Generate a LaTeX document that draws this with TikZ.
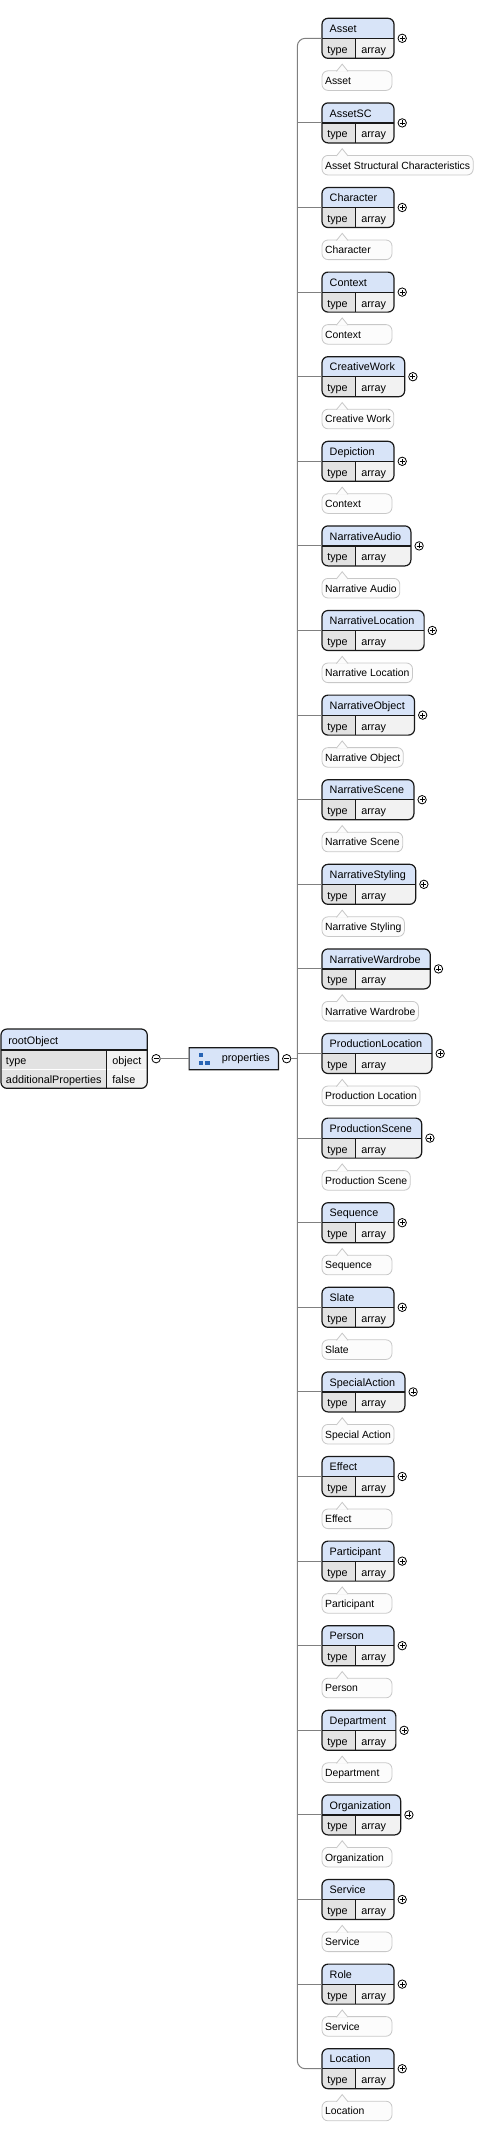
\documentclass[tikz,border=0pt]{standalone}
\usepackage{fontspec}
\setmainfont{Liberation Sans}
\usepackage{xcolor}
\usepackage{tikz}
\usetikzlibrary{positioning,calc,backgrounds}

\definecolor{hdrblue}{RGB}{216,228,248}
\definecolor{typegray}{RGB}{226,226,226}
\definecolor{cellgray}{RGB}{242,242,242}
\definecolor{notegray}{RGB}{200,200,200}
\definecolor{notefill}{RGB}{252,252,252}
\definecolor{linkgray}{RGB}{128,128,128}
\definecolor{iconblue}{RGB}{40,100,180}

\newcommand{\boxfont}{\fontsize{8.1}{9.7}\selectfont}
\newcommand{\notefont}{\fontsize{7.8}{9.4}\selectfont}
% left aligned text, padded to a minimum width
\newcommand{\padbox}[2]{\setbox0=\hbox{#2}\ifdim\wd0<#1\relax\hbox to #1{\unhbox0\hfil}\else\box0\fi}
\newcommand{\hdr}[1]{\padbox{42.4pt}{#1\kern1.5pt}}
\newcommand{\nte}[1]{\padbox{47.9pt}{#1}}

\begin{document}
\begin{tikzpicture}[
    x=0.75pt, y=-0.75pt,
    node distance=9.375pt,
    every node/.style={outer sep=0pt},
    cell/.style={anchor=base west, inner sep=0pt, font=\boxfont},
    knob/.style={circle, draw=black, line width=0.6pt, fill=white, inner sep=0pt, minimum size=6.3pt},
    expander/.style={knob, path picture={
        \draw[line width=0.6pt] ([xshift=-1.9pt]path picture bounding box.center) -- ([xshift=1.9pt]path picture bounding box.center)
            ([yshift=-1.9pt]path picture bounding box.center) -- ([yshift=1.9pt]path picture bounding box.center);}},
    collapser/.style={knob, path picture={
        \draw[line width=0.6pt] ([xshift=-1.9pt]path picture bounding box.center) -- ([xshift=1.9pt]path picture bounding box.center);}},
    prop/.style={rectangle, anchor=north west, rounded corners=4.5pt, draw=black!90, line width=0.9pt, fill=cellgray,
        inner xsep=5.8pt, inner ysep=0pt, text height=10.7pt, text depth=19.3pt, font=\boxfont,
        path picture={
            \fill[hdrblue, sharp corners] (path picture bounding box.north west) rectangle (path picture bounding box.east);
            \fill[typegray, sharp corners] (path picture bounding box.south west) rectangle ([xshift=25.3pt]path picture bounding box.west);
            \draw[sharp corners, line width=0.9pt, draw=black!90] (path picture bounding box.west) -- (path picture bounding box.east)
                ([xshift=25.3pt]path picture bounding box.west) -- ([xshift=25.3pt]path picture bounding box.south west);},
        label={[cell, xshift=4pt, yshift=3.75pt]south west:type},
        label={[cell, xshift=29.5pt, yshift=3.75pt]south west:array},
        label={[expander, label distance=3pt]right:{}}},
    note/.style={rectangle, rounded corners=4.5pt, draw=notegray, line width=0.6pt, fill=notefill,
        inner xsep=2.3pt, inner ysep=0pt, text height=10.3pt, text depth=4.4pt, font=\notefont},
    notch/.style={draw=notegray, fill=notefill, line width=0.6pt},
    under/.style={below=of #1.south west, anchor=north west},
    link/.style={draw=linkgray, line width=0.75pt},
]
\useasboundingbox (0,0) rectangle (481,2135);

% Root object
\node[rectangle, anchor=north west, rounded corners=4.5pt, draw=black!90, line width=0.9pt, fill=cellgray,
    inner xsep=5.5pt, inner ysep=0pt, text height=11.5pt, text depth=33pt, font=\boxfont,
    path picture={
        \fill[hdrblue, sharp corners] (path picture bounding box.north west) rectangle ([yshift=-15.75pt]path picture bounding box.north east);
        \fill[typegray, sharp corners] ([yshift=-15.75pt]path picture bounding box.north west) rectangle ([xshift=79.3pt]path picture bounding box.south west);
        \draw[sharp corners, line width=0.75pt, draw=white] ([yshift=-30.2pt]path picture bounding box.north west) -- ([yshift=-30.2pt]path picture bounding box.north east);
        \draw[sharp corners, line width=0.9pt, draw=black!90] ([yshift=-15.75pt]path picture bounding box.north west) -- ([yshift=-15.75pt]path picture bounding box.north east)
            ([yshift=-15.75pt, xshift=79.3pt]path picture bounding box.north west) -- ([xshift=79.3pt]path picture bounding box.south west);},
    label={[cell, xshift=3.75pt, yshift=-26.5pt]north west:type},
    label={[cell, xshift=83.6pt, yshift=-26.5pt]north west:object},
    label={[cell, xshift=3.75pt, yshift=-40.5pt]north west:additionalProperties},
    label={[cell, xshift=83.6pt, yshift=-40.5pt]north west:false}]
    (root) at (1,1029) {\padbox{98.7pt}{rootObject}};
\node[collapser, right=3.5pt of root] (root-c) {};

% Properties group
\node[rectangle, inner xsep=6.5pt, inner ysep=0pt, minimum height=16.5pt, font=\boxfont, right=21.6pt of root-c] (props) {\hspace*{18pt}properties};
\node[collapser, right=3pt of props] (props-c) {};
\begin{scope}[on background layer]
\filldraw[fill=hdrblue, draw=black!90, line width=0.9pt] (props.south west) |- ([xshift=-4.5pt]props.north east)
    to[out=0,in=90] ([yshift=-4.5pt]props.north east) |- (props.south west) -- cycle;
\end{scope}
\fill[iconblue] ([xshift=7.5pt,yshift=4.5pt]props.west) rectangle ++(3pt,-3pt);
\fill[iconblue] ([xshift=7.5pt,yshift=-1.5pt]props.west) rectangle ++(3pt,-3pt);
\fill[iconblue] ([xshift=12pt,yshift=-1.5pt]props.west) rectangle ++(3.5pt,-3pt);

% Properties
\node[prop] (asset) at (322,18.3) {\hdr{Asset}};
\node[note, under=asset] (asset-note) {\nte{Asset}};
\node[prop, under=asset-note] (assetsc) {\hdr{AssetSC}};
\node[note, under=assetsc] (assetsc-note) {\nte{Asset Structural Characteristics}};
\node[prop, under=assetsc-note] (character) {\hdr{Character}};
\node[note, under=character] (character-note) {\nte{Character}};
\node[prop, under=character-note] (context) {\hdr{Context}};
\node[note, under=context] (context-note) {\nte{Context}};
\node[prop, under=context-note] (creativework) {\hdr{CreativeWork}};
\node[note, under=creativework] (creativework-note) {\nte{Creative Work}};
\node[prop, under=creativework-note] (depiction) {\hdr{Depiction}};
\node[note, under=depiction] (depiction-note) {\nte{Context}};
\node[prop, under=depiction-note] (narraudio) {\hdr{NarrativeAudio}};
\node[note, under=narraudio] (narraudio-note) {\nte{Narrative Audio}};
\node[prop, under=narraudio-note] (narrloc) {\hdr{NarrativeLocation}};
\node[note, under=narrloc] (narrloc-note) {\nte{Narrative Location}};
\node[prop, under=narrloc-note] (narrobj) {\hdr{NarrativeObject}};
\node[note, under=narrobj] (narrobj-note) {\nte{Narrative Object}};
\node[prop, under=narrobj-note] (narrscene) {\hdr{NarrativeScene}};
\node[note, under=narrscene] (narrscene-note) {\nte{Narrative Scene}};
\node[prop, under=narrscene-note] (narrstyle) {\hdr{NarrativeStyling}};
\node[note, under=narrstyle] (narrstyle-note) {\nte{Narrative Styling}};
\node[prop, under=narrstyle-note] (narrward) {\hdr{NarrativeWardrobe}};
\node[note, under=narrward] (narrward-note) {\nte{Narrative Wardrobe}};
\node[prop, under=narrward-note] (prodloc) {\hdr{ProductionLocation}};
\node[note, under=prodloc] (prodloc-note) {\nte{Production Location}};
\node[prop, under=prodloc-note] (prodscene) {\hdr{ProductionScene}};
\node[note, under=prodscene] (prodscene-note) {\nte{Production Scene}};
\node[prop, under=prodscene-note] (sequence) {\hdr{Sequence}};
\node[note, under=sequence] (sequence-note) {\nte{Sequence}};
\node[prop, under=sequence-note] (slate) {\hdr{Slate}};
\node[note, under=slate] (slate-note) {\nte{Slate}};
\node[prop, under=slate-note] (specaction) {\hdr{SpecialAction}};
\node[note, under=specaction] (specaction-note) {\nte{Special Action}};
\node[prop, under=specaction-note] (effect) {\hdr{Effect}};
\node[note, under=effect] (effect-note) {\nte{Effect}};
\node[prop, under=effect-note] (participant) {\hdr{Participant}};
\node[note, under=participant] (participant-note) {\nte{Participant}};
\node[prop, under=participant-note] (person) {\hdr{Person}};
\node[note, under=person] (person-note) {\nte{Person}};
\node[prop, under=person-note] (dept) {\hdr{Department}};
\node[note, under=dept] (dept-note) {\nte{Department}};
\node[prop, under=dept-note] (org) {\hdr{Organization}};
\node[note, under=org] (org-note) {\nte{Organization}};
\node[prop, under=org-note] (service) {\hdr{Service}};
\node[note, under=service] (service-note) {\nte{Service}};
\node[prop, under=service-note] (role) {\hdr{Role}};
\node[note, under=role] (role-note) {\nte{Service}};
\node[prop, under=role-note] (location) {\hdr{Location}};
\node[note, under=location] (location-note) {\nte{Location}};

% Connectors
\coordinate[left=18.5pt of asset.west] (trunk);
\draw[link] (root-c) -- (props);
\draw[link] (props-c) -- (props-c -| trunk);
\draw[link, rounded corners=6pt] (asset.west) -- (trunk) -- (trunk |- location.west) -- (location.west);
\foreach \n in {assetsc,character,context,creativework,depiction,narraudio,narrloc,narrobj,narrscene,narrstyle,narrward,
    prodloc,prodscene,sequence,slate,specaction,effect,participant,person,dept,org,service,role}
    \draw[link] (\n.west -| trunk) -- (\n.west);

% Comment notches
\foreach \n in {asset,assetsc,character,context,creativework,depiction,narraudio,narrloc,narrobj,narrscene,narrstyle,narrward,
    prodloc,prodscene,sequence,slate,specaction,effect,participant,person,dept,org,service,role,location}
    \filldraw[notch] ([xshift=10.8pt,yshift=-0.4pt]\n-note.north west) -- ++(4.35pt,5.4pt) -- ++(4.35pt,-5.4pt);

\end{tikzpicture}
\end{document}
